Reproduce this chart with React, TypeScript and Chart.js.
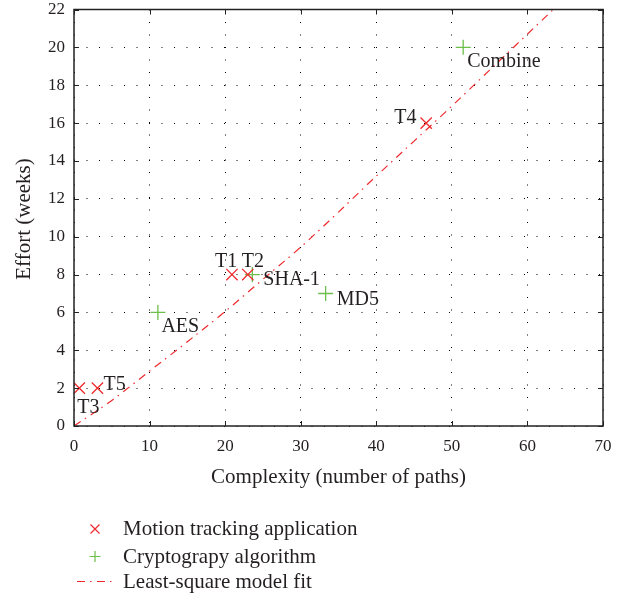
import React, { useEffect, useRef } from "react";
import { Chart, registerables } from "chart.js";

Chart.register(...registerables);

// ---- data ----
const motionNames = ["T3", "T5", "T1", "T2", "T4"];
const motionX = [0.7, 3.1, 20.9, 23.0, 46.6];
const motionY = [2, 2, 8, 8, 16];

const cryptoNames = ["AES", "SHA-1", "MD5", "Combine"];
const cryptoX = [11.1, 23.6, 33.3, 51.5];
const cryptoY = [6, 8, 7, 20];

const fitX = [0, 5, 10, 15, 20, 25, 30, 35, 40, 45, 50, 55, 60, 65];
const fitY = [0, 1.35, 2.9, 4.45, 6.05, 7.75, 9.45, 11.3, 13.2, 15.05, 16.9, 18.8, 20.7, 22.6];

const xTickValues = [0, 10, 20, 30, 40, 50, 60, 70];
const yTickValues = [0, 2, 4, 6, 8, 10, 12, 14, 16, 18, 20, 22];

const legendLabels = ["Motion tracking application", "Cryptograpy algorithm", "Least-square model fit"];
const xTitle = "Complexity (number of paths)";
const yTitle = "Effort (weeks)";

// ---- styles ----
const RED = "#ee2a2e";
const GREEN = "#6cbf4a";
const TEXT = "#231f20";
const SERIF = "'Liberation Serif', 'DejaVu Serif', serif";
const FIT_DASH = [8, 5, 1.5, 5.5];

// label offsets (px) relative to point: [dx, dy to baseline]
const labelOffsets: Record<string, [number, number]> = {
  T3: [-2, 25],
  T5: [6, 2],
  T1: [-17, -7.5],
  T2: [-6, -7.5],
  T4: [-32, 0],
  AES: [3.5, 19.5],
  "SHA-1": [11, 10.5],
  MD5: [11, 11.5],
  Combine: [4, 19.5],
};

const overlayPlugin = {
  id: "overlay",
  afterDraw(chart: any) {
    const { ctx, chartArea, scales } = chart;
    const xs = scales.x;
    const ys = scales.y;
    const { left, right, top, bottom } = chartArea;
    ctx.save();

    // frame
    ctx.strokeStyle = "#222";
    ctx.lineWidth = 1.5;
    ctx.setLineDash([]);
    ctx.strokeRect(left, top, right - left, bottom - top);

    // inward ticks
    ctx.lineWidth = 1;
    const tl = 5;
    ctx.beginPath();
    xTickValues.forEach((v) => {
      const px = Math.round(xs.getPixelForValue(v)) + 0.5;
      ctx.moveTo(px, bottom);
      ctx.lineTo(px, bottom - tl);
      ctx.moveTo(px, top);
      ctx.lineTo(px, top + tl);
    });
    yTickValues.forEach((v) => {
      const py = Math.round(ys.getPixelForValue(v)) + 0.5;
      ctx.moveTo(left, py);
      ctx.lineTo(left + tl, py);
      ctx.moveTo(right, py);
      ctx.lineTo(right - tl, py);
    });
    ctx.stroke();

    // point labels
    ctx.fillStyle = TEXT;
    ctx.font = `20px ${SERIF}`;
    ctx.textBaseline = "alphabetic";
    ctx.textAlign = "left";
    const drawLabels = (names: string[], xv: number[], yv: number[]) => {
      names.forEach((n, i) => {
        const o = labelOffsets[n] || [5, 0];
        ctx.fillText(n, xs.getPixelForValue(xv[i]) + o[0], ys.getPixelForValue(yv[i]) + o[1]);
      });
    };
    drawLabels(motionNames, motionX, motionY);
    drawLabels(cryptoNames, cryptoX, cryptoY);

    // axis titles
    ctx.font = `21px ${SERIF}`;
    ctx.textAlign = "center";
    ctx.fillText(xTitle, (left + right) / 2, 483);
    ctx.save();
    ctx.translate(29.5, 219);
    ctx.rotate(-Math.PI / 2);
    ctx.fillText(yTitle, 0, 0);
    ctx.restore();

    // legend
    const mx = 95;
    ctx.lineWidth = 1.2;
    ctx.strokeStyle = RED;
    ctx.beginPath();
    const cy0 = 529;
    ctx.moveTo(mx - 4.5, cy0 - 4.5);
    ctx.lineTo(mx + 4.5, cy0 + 4.5);
    ctx.moveTo(mx + 4.5, cy0 - 4.5);
    ctx.lineTo(mx - 4.5, cy0 + 4.5);
    ctx.stroke();
    ctx.strokeStyle = GREEN;
    ctx.beginPath();
    const cy1 = 556.5;
    ctx.moveTo(mx - 5.5, cy1);
    ctx.lineTo(mx + 5.5, cy1);
    ctx.moveTo(mx, cy1 - 5.5);
    ctx.lineTo(mx, cy1 + 5.5);
    ctx.stroke();
    ctx.strokeStyle = RED;
    ctx.setLineDash(FIT_DASH);
    ctx.beginPath();
    ctx.moveTo(77, 581.5);
    ctx.lineTo(112, 581.5);
    ctx.stroke();
    ctx.setLineDash([]);

    ctx.fillStyle = TEXT;
    ctx.font = `21px ${SERIF}`;
    ctx.textAlign = "left";
    const baselines = [535, 563, 588];
    legendLabels.forEach((t, i) => ctx.fillText(t, 123, baselines[i]));

    ctx.restore();
  },
};

export default function App() {
  const ref = useRef<HTMLCanvasElement>(null);

  useEffect(() => {
    if (!ref.current) return;
    const tickFont = { family: SERIF, size: 17 };
    const chart = new Chart(ref.current, {
      type: "scatter",
      data: {
        datasets: [
          {
            label: legendLabels[2],
            type: "line",
            data: fitX.map((x, i) => ({ x, y: fitY[i] })),
            borderColor: RED,
            borderWidth: 1.2,
            borderDash: FIT_DASH,
            pointRadius: 0,
            fill: false,
            cubicInterpolationMode: "monotone",
          } as any,
          {
            label: legendLabels[0],
            data: motionX.map((x, i) => ({ x, y: motionY[i] })),
            pointStyle: "crossRot",
            pointRadius: 8,
            borderColor: RED,
            backgroundColor: RED,
            pointBorderWidth: 1.3,
          } as any,
          {
            label: legendLabels[1],
            data: cryptoX.map((x, i) => ({ x, y: cryptoY[i] })),
            pointStyle: "cross",
            pointRadius: 7.5,
            borderColor: GREEN,
            backgroundColor: GREEN,
            pointBorderWidth: 1.3,
          } as any,
        ],
      },
      options: {
        animation: false,
        responsive: false,
        devicePixelRatio: 1,
        layout: { padding: { top: 9.5, right: 35, left: 0, bottom: 0 } },
        plugins: { legend: { display: false }, tooltip: { enabled: false } },
        events: [],
        scales: {
          x: {
            type: "linear",
            min: 0,
            max: 70,
            ticks: { stepSize: 10, font: tickFont, color: TEXT, padding: 10, maxRotation: 0 },
            grid: { color: "#000", lineWidth: 1, drawTicks: false },
            border: { display: false, dash: [1, 11.5] },
            afterFit: (s: any) => {
              s.height = 170;
              s.paddingLeft = 0;
              s.paddingRight = 0;
            },
          },
          y: {
            type: "linear",
            min: 0,
            max: 22,
            ticks: { stepSize: 2, font: tickFont, color: TEXT, padding: 9 },
            grid: { color: "#000", lineWidth: 1, drawTicks: false },
            border: { display: false, dash: [1, 11.5] },
            afterFit: (s: any) => {
              s.width = 74;
              s.paddingTop = 0;
              s.paddingBottom = 0;
            },
          },
        },
      } as any,
      plugins: [overlayPlugin],
    });
    return () => chart.destroy();
  }, []);

  return (
    <div style={{ position: "fixed", left: 0, top: 0, width: 638, height: 596, background: "#fff" }}>
      <canvas ref={ref} width={638} height={596} style={{ width: 638, height: 596, display: "block" }} />
    </div>
  );
}
